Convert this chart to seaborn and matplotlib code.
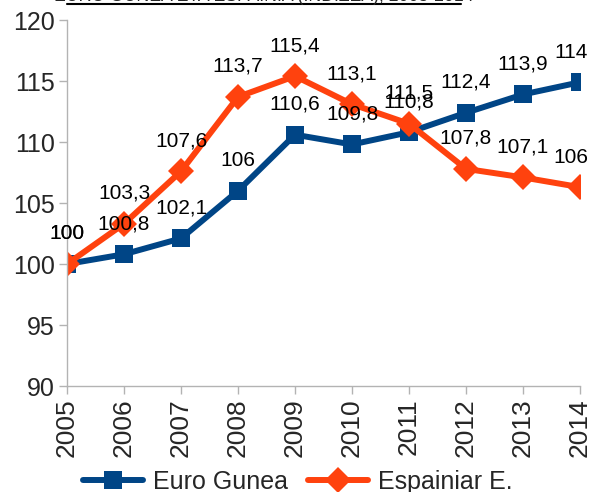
import matplotlib
matplotlib.use("Agg")
import matplotlib.pyplot as plt
import seaborn as sns
import pandas as pd
from matplotlib.lines import Line2D

years = [2005, 2006, 2007, 2008, 2009, 2010, 2011, 2012, 2013, 2014]
euro_gunea = [100, 100.8, 102.1, 106, 110.6, 109.8, 110.8, 112.4, 113.9, 114.9]
espainia = [100, 103.3, 107.6, 113.7, 115.4, 113.1, 111.5, 107.8, 107.1, 106.3]
series_names = ["Euro Gunea", "Espainiar E."]
title = "EURO GUNEA ETA ESPAINIA (INDIZEA), 2005-2014"

sns.set_style("white")
plt.rcParams["font.family"] = ["Liberation Sans", "DejaVu Sans"]

df = pd.DataFrame({
    "year": years * 2,
    "value": euro_gunea + espainia,
    "series": [series_names[0]] * len(years) + [series_names[1]] * len(years),
})

colors = {series_names[0]: "#004586", series_names[1]: "#ff420e"}
markers = {series_names[0]: "s", series_names[1]: "D"}

fig = plt.figure(figsize=(5.89, 4.92), dpi=100)
ax = fig.add_axes([0.1138, 0.2154, 0.8709, 0.7439])

sns.lineplot(data=df, x="year", y="value", hue="series", style="series",
             palette=colors, markers=markers, dashes=False, linewidth=4.3,
             markersize=13, markeredgewidth=0, ax=ax, legend=False)

for name, vals in zip(series_names, [euro_gunea, espainia]):
    for x, v in zip(years, vals):
        lab = f"{v:g}".replace(".", ",")
        ax.annotate(lab, (x, v), xytext=(0, 22), textcoords="offset points",
                    ha="center", va="center", fontsize=15, color="black",
                    annotation_clip=False, clip_on=False)

ax.set_xlim(2005, 2014)
ax.set_ylim(90, 120)
ax.set_xticks(years)
ax.set_xticklabels([str(y) for y in years], rotation=90, fontsize=19)
ax.set_yticks(range(90, 121, 5))
ax.set_yticklabels([str(v) for v in range(90, 121, 5)], fontsize=18)
ax.set_xlabel("")
ax.set_ylabel("")
for s in ["top", "right"]:
    ax.spines[s].set_visible(False)
for s in ["left", "bottom"]:
    ax.spines[s].set_color("#b3b3b3")
    ax.spines[s].set_linewidth(1)
ax.tick_params(axis="both", which="both", length=6, width=1, color="#b3b3b3",
               direction="out", left=True, bottom=True, pad=3)

handles = [Line2D([], [], color=colors[n], marker=markers[n], lw=4.3,
                  markersize=13, markeredgewidth=0) for n in series_names]
fig.legend(handles, series_names, loc="center", ncol=2,
           bbox_to_anchor=(0.505, 0.02), frameon=False, fontsize=18,
           handlelength=2.4, handletextpad=0.4, columnspacing=0.8)

fig.text(0.448, 1 - 1.0 / 492, title, ha="center", va="baseline", fontsize=12.7)
fig.add_artist(Line2D([67 / 589, 461 / 589], [1 - 4 / 492, 1 - 4 / 492],
                      color="black", lw=1.5, transform=fig.transFigure))

fig.savefig("out.png", dpi=100)
